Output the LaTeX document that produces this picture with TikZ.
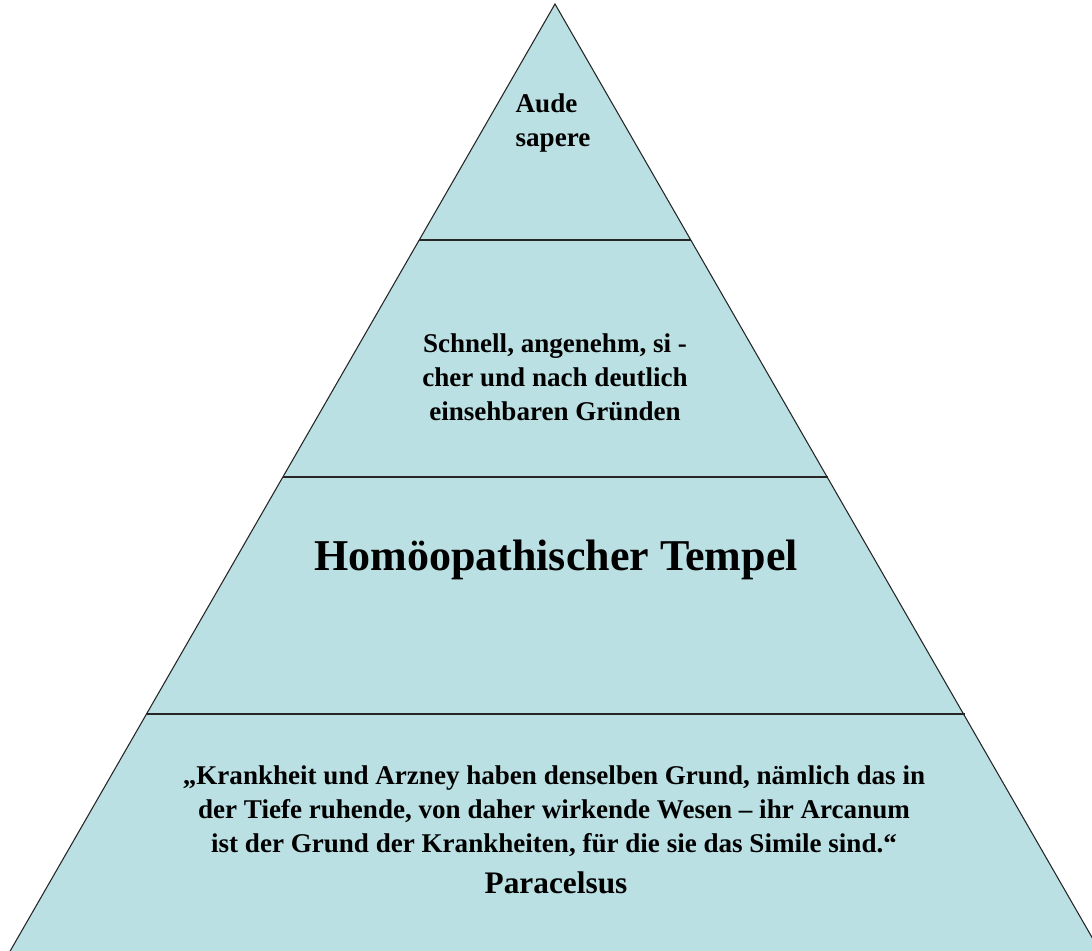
\documentclass[tikz,border=0pt]{standalone}
\usepackage{fontspec}
\setmainfont{Liberation Serif}
\definecolor{pyr}{RGB}{187,224,227}
\tikzset{
  layer/.style={fill=pyr, draw=black!85, line width=0.8pt},
  divider/.style={draw=black!85, line width=0.8pt},
  body/.style={font=\fontsize{20.3}{25.5}\selectfont\bfseries, text=black, inner sep=0pt},
  author/.style={font=\fontsize{23.5}{28}\selectfont\bfseries, text=black, inner sep=0pt},
  headline/.style={font=\fontsize{33}{40}\selectfont\bfseries, text=black, inner sep=0pt}
}
\begin{document}
\begin{tikzpicture}[x=0.75pt,y=-0.75pt]
\useasboundingbox (0,0) rectangle (1092,950);
\clip (0,0) rectangle (1092,950);
\coordinate (apex) at (555,4);
\coordinate (bl) at (9,953);
\coordinate (br) at (1101,953);
\coordinate (l1) at (419,240); \coordinate (r1) at (691,240);
\coordinate (l2) at (283,477); \coordinate (r2) at (828,477);
\coordinate (l3) at (146,714); \coordinate (r3) at (965,714);
\path[layer] (apex) -- (br) -- (bl) -- cycle;
\draw[divider] (l1) -- (r1);
\draw[divider] (l2) -- (r2);
\draw[divider] (l3) -- (r3);
\node[body, align=left] (top) at (553,123) {Aude\\ sapere};
\node[body, align=center] (mid) at (555,377) {Schnell, angenehm, si -\\ cher und nach deutlich\\ einsehbaren Gründen};
\node[headline] (title) at (556,560) {Homöopathischer Tempel};
\node[body, align=center] (quote) at (554,811) {„Krankheit und Arzney haben denselben Grund, nämlich das in\\ der Tiefe ruhende, von daher wirkende Wesen – ihr Arcanum\\ ist der Grund der Krankheiten, für die sie das Simile sind.“};
\node[author] (auth) at (556,883) {Paracelsus};
\end{tikzpicture}
\end{document}
